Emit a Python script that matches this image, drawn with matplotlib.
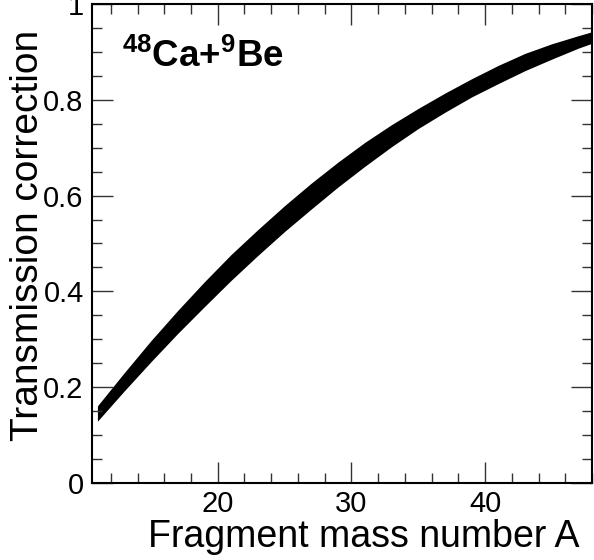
import numpy as np
import matplotlib
matplotlib.use('Agg')
import matplotlib.pyplot as plt
from matplotlib.ticker import MultipleLocator

plt.rcParams['font.family'] = ['Liberation Sans', 'DejaVu Sans']
plt.rcParams['mathtext.default'] = 'regular'

# Transmission correction band vs fragment mass number
mass_a = [11, 13, 15, 17, 19, 21, 23, 25, 27, 29, 31, 33, 35, 37, 39, 41, 43, 45, 47, 48]
corr_low = [0.129, 0.192, 0.253, 0.312, 0.368, 0.423, 0.475, 0.525, 0.572, 0.618,
            0.661, 0.702, 0.740, 0.774, 0.806, 0.834, 0.861, 0.885, 0.908, 0.918]
corr_high = [0.161, 0.230, 0.297, 0.360, 0.420, 0.477, 0.529, 0.579, 0.626, 0.670,
             0.711, 0.748, 0.782, 0.814, 0.844, 0.872, 0.897, 0.917, 0.934, 0.942]

fig = plt.figure(figsize=(5.94, 5.60), dpi=100)
ax = fig.add_axes([0.155, 0.1375, 0.8416, 0.8554])

ax.fill_between(mass_a, corr_low, corr_high, color='black', linewidth=0)

ax.set_xlim(10.6, 48.0)
ax.set_ylim(0, 1)

ax.xaxis.set_major_locator(MultipleLocator(10))
ax.xaxis.set_minor_locator(MultipleLocator(2))
ax.yaxis.set_minor_locator(MultipleLocator(0.05))
ax.set_yticks([0, 0.2, 0.4, 0.6, 0.8, 1.0])
ax.set_yticklabels(['0', '0.2', '0.4', '0.6', '0.8', '1'])

ax.tick_params(which='both', direction='in', top=True, right=True,
               labelsize=21, width=1.0, color='#333333')
ax.tick_params(which='major', length=15)
ax.tick_params(which='minor', length=7)
ax.tick_params(axis='x', pad=5)
ax.tick_params(axis='y', pad=6)
for sp in ax.spines.values():
    sp.set_linewidth(1.5)

# axis titles placed ROOT-style: right/top aligned
fig.text(580 / 594, 1 - 547 / 560, 'Fragment mass number A', fontsize=27,
         ha='right', va='baseline')
fig.text(28 / 594, 1 - 30 / 560, 'Transmission correction', fontsize=28,
         rotation=90, ha='center', va='top')

ax.text(0.06, 0.868, '$^{48}$Ca+$^{9}$Be', transform=ax.transAxes,
        fontsize=26.5, fontweight='bold', va='baseline', ha='left')

fig.savefig('out.png', dpi=100)
